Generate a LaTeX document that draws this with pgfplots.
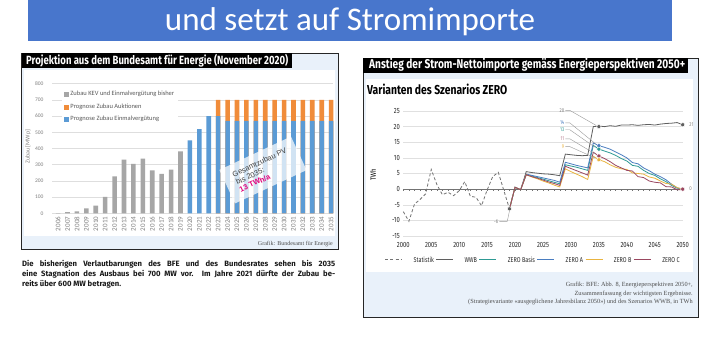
\documentclass[border=0pt]{standalone}
\usepackage{graphicx}
\usepackage{pgfplots}
\pgfplotsset{compat=1.18}
\usepackage{fontspec}
\setmainfont{Liberation Sans}
\newfontfamily\titlefont{Carlito}
\newfontfamily\calfont{Carlito}
\newfontfamily\hdfont[FakeStretch=0.8]{Fira Sans}
\newfontfamily\condfont[FakeStretch=0.78]{Fira Sans}
\newfontfamily\serffont{Liberation Serif}
\newfontfamily\parfont{Fira Sans}
\newfontfamily\narrowcal[FakeStretch=0.8]{Carlito}
\definecolor{slideblue}{HTML}{4876CC}
\definecolor{panelbg}{HTML}{E9F1FA}
\definecolor{bargrey}{HTML}{A6A6A6}
\definecolor{barblue}{HTML}{5B9BD5}
\definecolor{barorange}{HTML}{F08C3A}
\definecolor{wwb}{HTML}{5F5F5F}
\definecolor{zbasis}{HTML}{2E9A94}
\definecolor{za}{HTML}{4A7DC0}
\definecolor{zb}{HTML}{E9B440}
\definecolor{zc}{HTML}{9A4760}
\definecolor{pvmag}{HTML}{E2007A}
\definecolor{ticklab}{HTML}{7F7F7F}
\begin{document}
\begin{tikzpicture}[x=1pt,y=1pt]
\useasboundingbox (0,0) rectangle (720,362);
\fill[white] (0,0) rectangle (720,362);
% ---------- title bar
\fill[slideblue] (28,321) rectangle (672,362);
\node[anchor=base, text=white, inner sep=0] at (350,331) {\resizebox{370pt}{!}{\titlefont und setzt auf Stromimporte}};
% ---------- left panel
\filldraw[fill=panelbg, draw=black!85, line width=0.6pt] (21.5,113) rectangle (338,309);
\fill[white] (24,126) rectangle (335,292);
\fill[black] (21.5,294) rectangle (292,309);
\node[anchor=base west, inner sep=0, text=white] at (26,297.5) {\resizebox{262pt}{!}{\hdfont\bfseries Projektion aus dem Bundesamt für Energie (November 2020)}};
\node[anchor=base east, inner sep=0, text=black!70, font=\serffont\fontsize{6}{7}\selectfont] at (333,117) {Grafik: Bundesamt für Energie};
\node[rotate=90, inner sep=0, text=ticklab, font=\calfont\fontsize{6}{6}\selectfont] at (28,215.3) {Zubau [MWp]};
\begin{axis}[
  at={(52pt,148.7pt)}, anchor=south west, scale only axis,
  width=281pt, height=129.6pt,
  xmin=-0.65, xmax=29.2, ymin=0, ymax=800,
  ybar, bar width=4.6pt,
  axis line style={draw=none}, major tick length=0pt,
  ytick={0,100,...,800}, ymajorgrids, grid style={draw=black!13, line width=0.5pt},
  xtick={0,...,29},
  xticklabels={2006,2007,2008,2009,2010,2011,2012,2013,2014,2015,2016,2017,2018,2019,2020,2021,2022,2023,2024,2025,2026,2027,2028,2029,2030,2031,2032,2033,2034,2035},
  xticklabel style={rotate=90, anchor=east, font=\calfont\fontsize{7}{7}\selectfont, text=ticklab},
  yticklabel style={font=\calfont\fontsize{5.5}{6}\selectfont, text=ticklab, xshift=-5pt},
  /pgf/number format/assume math mode=true,
  legend style={at={(0.035,0.975)}, anchor=north west, draw=none, fill=white,
    font=\calfont\fontsize{6.5}{7}\selectfont, text=black!65, row sep=2.6pt, inner sep=2pt},
  legend cell align=left,
  clip=false,
]
\addlegendimage{legend image code/.code={\fill[bargrey] (0pt,-2pt) rectangle (4pt,2pt);}}
\addlegendentry{Zubau KEV und Einmalvergütung bisher}
\addlegendimage{legend image code/.code={\fill[barorange] (0pt,-2pt) rectangle (4pt,2pt);}}
\addlegendentry{Prognose Zubau Auktionen}
\addlegendimage{legend image code/.code={\fill[barblue] (0pt,-2pt) rectangle (4pt,2pt);}}
\addlegendentry{Prognose Zubau Einmalvergütung}
\addplot[fill=bargrey, draw=none, bar shift=0pt, forget plot] coordinates {
 (0,1) (1,7) (2,12) (3,31) (4,47) (5,101) (6,228) (7,332) (8,305) (9,337) (10,265) (11,243) (12,269) (13,382)};
% total (Einmalverguetung + Auktionen)
\addplot[fill=barorange, draw=none, bar shift=0pt, forget plot] coordinates {
 (17,700) (18,700) (19,700) (20,700) (21,700) (22,700) (23,700) (24,700) (25,700) (26,700) (27,700) (28,700) (29,700)};
\addplot[fill=barblue, draw=none, bar shift=0pt, forget plot] coordinates {
 (14,450) (15,520) (16,600) (17,600) (18,570) (19,570) (20,570) (21,570) (22,570) (23,570) (24,570) (25,570) (26,570) (27,570) (28,570) (29,570)};
\end{axis}
\node[rotate=25, fill=white, fill opacity=0.72, text opacity=1, minimum width=79pt, minimum height=37pt, inner sep=0pt, align=left, text=black!75, font=\fontsize{7.5}{8.3}\selectfont] at (263,192) {Gesamtzubau PV\\bis 2035:\\{\color{pvmag}\bfseries 13 TWh/a}};
% paragraph
\node[anchor=base west, inner sep=0, font=\parfont\bfseries\fontsize{7.7}{9}\selectfont, text=black!90] at (22,96) {\makebox[313pt][s]{Die bisherigen Verlautbarungen des BFE und des Bundesrates sehen bis 2035}};
\node[anchor=base west, inner sep=0, font=\parfont\bfseries\fontsize{7.7}{9}\selectfont, text=black!90] at (22,85.5) {\makebox[313pt][s]{eine Stagnation des Ausbaus bei 700 MW vor. Im Jahre 2021 dürfte der Zubau be-}};
\node[anchor=base west, inner sep=0, font=\parfont\bfseries\fontsize{7.7}{9}\selectfont, text=black!90] at (22,75.5) {reits über 600 MW betragen.};
% ---------- right panel
\filldraw[fill=panelbg, draw=black!85, line width=0.6pt] (363,45) rectangle (698,304);
\fill[white] (366,90) rectangle (693,283);
\fill[black] (363,288.5) rectangle (688,304);
\node[anchor=base west, inner sep=0, text=white] at (369,293) {\resizebox{316pt}{!}{\hdfont\bfseries Anstieg der Strom-Nettoimporte gemäss Energieperspektiven 2050+}};
\node[anchor=base west, inner sep=0] at (367,267) {\resizebox{140pt}{!}{\hdfont\bfseries Varianten des Szenarios ZERO}};
\node[rotate=90, inner sep=0, font=\condfont\fontsize{7.5}{8}\selectfont] at (373,187) {TWh};
\node[anchor=base east, inner sep=0, text=black!70, font=\serffont\fontsize{6.3}{7}\selectfont] at (693,75.3) {Grafik: BFE: Abb. 8, Energieperspektiven 2050+,};
\node[anchor=base east, inner sep=0, text=black!70, font=\serffont\fontsize{6.3}{7}\selectfont] at (693,67) {Zusammenfassung der wichtigsten Ergebnisse.};
\node[anchor=base east, inner sep=0, text=black!70, font=\serffont\fontsize{6.3}{7}\selectfont] at (693,58.7) {(Strategievariante «ausgeglichene Jahresbilanz 2050») und des Szenarios WWB, in TWh};
\begin{axis}[
  at={(403.3pt,126pt)}, anchor=south west, scale only axis,
  width=279.4pt, height=125pt,
  xmin=2000, xmax=2050, ymin=-15, ymax=25,
  xtick={2000,2005,...,2050}, ytick={-15,-10,...,25},
  ymajorgrids, grid style={draw=black!12, line width=0.5pt},
  axis line style={draw=none}, major tick length=0pt,
  tick label style={font=\condfont\fontsize{7.5}{8}\selectfont, text=black!85},
  xticklabel style={yshift=-3pt},
  /pgf/number format/assume math mode=true,
  /pgf/number format/1000 sep={},
  clip=false,
  legend columns=6,
  legend style={at={(0.465,-0.2)}, anchor=center, draw=none, fill=none,
    font=\condfont\fontsize{7}{8}\selectfont, text=black!85,
    /tikz/every odd column/.append style={column sep=9pt}},
  legend image code/.code={\draw[#1] (0pt,1.5pt) -- (17pt,1.5pt);},
]
\draw[black!55, line width=0.6pt] (axis cs:2000,0) -- (axis cs:2050,0);
\pgfplotsinvokeforeach{2000,...,2050}{\draw[black!55, line width=0.4pt] (axis cs:#1,0) -- ++(0pt,-2pt);}
\addplot[black!55, line width=0.8pt, dash pattern=on 3pt off 2.2pt] coordinates {
 (2000,-7.2) (2001,-10.3) (2002,-4.8) (2003,-3.3) (2004,-1.5) (2005,6.3) (2006,1.5) (2007,-1.8) (2008,-1.0) (2009,-2.1)
 (2010,-0.5) (2011,2.4) (2012,-2.3) (2013,-2.6) (2014,-5.3) (2015,-0.3) (2016,4.0) (2017,5.4) (2018,-0.5) (2019,-6.3)};
\addlegendentry{Statistik}
\addplot[wwb, line width=0.8pt] coordinates {
 (2019,-6.3) (2020,0.6) (2021,-0.2) (2022,5.6) (2023,5.3) (2024,5.1) (2025,4.9) (2026,4.8) (2027,4.6) (2028,4.3)
 (2029,11.2) (2030,11.0) (2031,10.8) (2032,10.7) (2033,10.8) (2034,20.0) (2035,20.2) (2036,20.0) (2037,20.3) (2038,20.1)
 (2039,20.5) (2040,20.5) (2041,20.6) (2042,20.4) (2043,20.6) (2044,20.7) (2045,20.5) (2046,20.8) (2047,21.0) (2048,21.1) (2049,21.3) (2050,20.6)};
\addlegendentry{WWB}
\addplot[zbasis, line width=0.8pt] coordinates {
 (2019,-6.3) (2020,0.6) (2021,-0.2) (2022,4.7) (2023,4.2) (2024,3.7) (2025,3.2) (2026,2.7) (2027,2.2) (2028,1.7)
 (2029,7.8) (2030,7.4) (2031,7.0) (2032,6.5) (2033,6.0) (2034,14.0) (2035,12.8) (2036,12.2) (2037,11.6) (2038,10.8)
 (2039,9.8) (2040,9.0) (2041,7.6) (2042,7.3) (2043,6.0) (2044,5.0) (2045,4.4) (2046,3.3) (2047,2.4) (2048,1.2) (2049,0.3) (2050,0)};
\addlegendentry{ZERO Basis}
\addplot[za, line width=0.8pt] coordinates {
 (2019,-6.3) (2020,0.6) (2021,-0.2) (2022,4.8) (2023,4.4) (2024,4.0) (2025,3.6) (2026,3.2) (2027,2.8) (2028,2.2)
 (2029,8.6) (2030,8.1) (2031,7.6) (2032,7.2) (2033,6.8) (2034,14.8) (2035,13.9) (2036,13.4) (2037,12.8) (2038,11.9)
 (2039,11.0) (2040,10.0) (2041,8.5) (2042,8.1) (2043,6.8) (2044,5.9) (2045,4.8) (2046,4.0) (2047,3.0) (2048,1.6) (2049,0.4) (2050,0)};
\addlegendentry{ZERO A}
\addplot[zb, line width=0.8pt] coordinates {
 (2019,-6.3) (2020,0.6) (2021,-0.2) (2022,4.6) (2023,3.9) (2024,3.3) (2025,2.6) (2026,2.0) (2027,1.3) (2028,0.7)
 (2029,6.5) (2030,5.6) (2031,4.8) (2032,4.0) (2033,3.1) (2034,10.5) (2035,9.4) (2036,8.8) (2037,7.8) (2038,7.0)
 (2039,6.5) (2040,6.3) (2041,5.2) (2042,5.0) (2043,4.8) (2044,3.9) (2045,3.5) (2046,2.6) (2047,1.8) (2048,1.6) (2049,0.5) (2050,0)};
\addlegendentry{ZERO B}
\addplot[zc, line width=0.8pt] coordinates {
 (2019,-6.3) (2020,0.6) (2021,-0.2) (2022,4.6) (2023,4.0) (2024,3.5) (2025,2.9) (2026,2.3) (2027,1.8) (2028,1.2)
 (2029,7.3) (2030,6.6) (2031,5.9) (2032,5.2) (2033,4.5) (2034,11.8) (2035,10.6) (2036,9.8) (2037,8.8) (2038,7.6)
 (2039,6.8) (2040,6.0) (2041,5.8) (2042,4.0) (2043,3.7) (2044,2.6) (2045,2.2) (2046,2.0) (2047,0.8) (2048,0.7) (2049,-0.2) (2050,-0.2)};
\addlegendentry{ZERO C}
% markers
\addplot[only marks, mark=*, mark size=2.1pt, mark options={fill=wwb, draw=white, line width=0.5pt}, forget plot] coordinates {(2019,-6.3) (2035,20.0) (2050,20.6)};
\addplot[only marks, mark=*, mark size=2.1pt, mark options={fill=za, draw=white, line width=0.5pt}, forget plot] coordinates {(2035,13.9)};
\addplot[only marks, mark=*, mark size=2.1pt, mark options={fill=zbasis, draw=white, line width=0.5pt}, forget plot] coordinates {(2035,12.8)};
\addplot[only marks, mark=*, mark size=2.1pt, mark options={fill=zc, draw=white, line width=0.5pt}, forget plot] coordinates {(2035,10.6) (2050,0)};
\addplot[only marks, mark=*, mark size=2.1pt, mark options={fill=zb, draw=white, line width=0.5pt}, forget plot] coordinates {(2035,9.4)};
% value labels with leaders
\draw[black!40, line width=0.4pt] (axis cs:2029.0,25.2) -- (axis cs:2029.8,25.2) -- (axis cs:2034.5,20.4);
\draw[black!40, line width=0.4pt] (axis cs:2029.0,21.2) -- (axis cs:2029.8,21.2) -- (axis cs:2034.4,14.5);
\draw[black!40, line width=0.4pt] (axis cs:2029.0,19.0) -- (axis cs:2029.8,19.0) -- (axis cs:2034.3,13.4);
\draw[black!40, line width=0.4pt] (axis cs:2029.0,16.1) -- (axis cs:2029.8,16.1) -- (axis cs:2034.3,11.3);
\draw[black!40, line width=0.4pt] (axis cs:2029.0,13.6) -- (axis cs:2029.8,13.6) -- (axis cs:2034.3,10.0);
\draw[black!40, line width=0.4pt] (axis cs:2017.2,-10.3) -- (axis cs:2018.6,-10.3) -- (axis cs:2019,-7.0);
\node[anchor=east, inner sep=1pt, text=black!50, font=\condfont\fontsize{5.5}{6}\selectfont] at (axis cs:2029.0,25.2) {20};
\node[anchor=east, inner sep=1pt, text=za, font=\condfont\fontsize{5.5}{6}\selectfont] at (axis cs:2029.0,21.2) {14};
\node[anchor=east, inner sep=1pt, text=zbasis, font=\condfont\fontsize{5.5}{6}\selectfont] at (axis cs:2029.0,19.0) {13};
\node[anchor=east, inner sep=1pt, text=zc!70, font=\condfont\fontsize{5.5}{6}\selectfont] at (axis cs:2029.0,16.1) {11};
\node[anchor=east, inner sep=1pt, text=zb, font=\condfont\fontsize{5.5}{6}\selectfont] at (axis cs:2029.0,13.6) {9};
\node[anchor=east, inner sep=1pt, text=black!50, font=\condfont\fontsize{5.5}{6}\selectfont] at (axis cs:2017.2,-10.3) {-6};
\node[anchor=west, inner sep=1pt, text=black!50, font=\condfont\fontsize{5.5}{6}\selectfont] at (axis cs:2051,20.6) {21};
\node[anchor=west, inner sep=1pt, text=black!50, font=\condfont\fontsize{5.5}{6}\selectfont] at (axis cs:2051,0) {0};
\end{axis}
\end{tikzpicture}
\end{document}
